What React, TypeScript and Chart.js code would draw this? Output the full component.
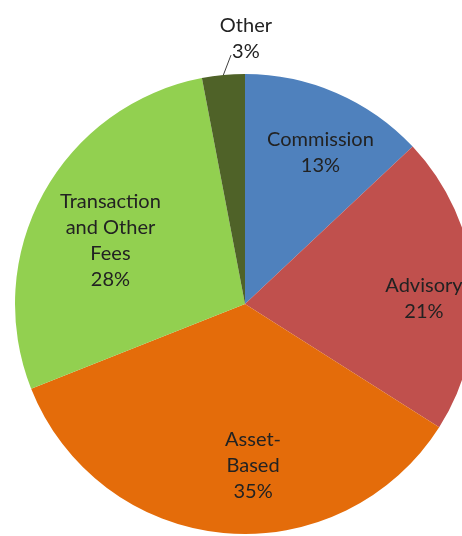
import React, { useEffect, useRef } from "react";
import { Chart, registerables } from "chart.js";

Chart.register(...registerables);

const categories = ["Commission", "Advisory", "Asset-Based", "Transaction and Other Fees", "Other"];
const labelLines = [["Commission"], ["Advisory"], ["Asset-", "Based"], ["Transaction", "and Other", "Fees"], ["Other"]];
const shares = [13, 21, 35, 28, 3];
const colors = ["#4F81BD", "#C0504D", "#E46C0A", "#92D050", "#4F6228"];
// label block centres, as fractions of the pie radius from the pie centre
const labelOffsets = [
  [0.328, -0.658],
  [0.778, -0.022],
  [0.035, 0.704],
  [-0.585, -0.278],
  [0.004, -1.154],
];
const leaderStart = [null, null, null, null, [-0.061, -1.082]];

const FONT = "Lato, 'Open Sans', sans-serif";
const LINE_H = 26;

const labelPlugin = {
  id: "pieLabels",
  afterDatasetsDraw(chart: any) {
    const ctx = chart.ctx;
    const meta = chart.getDatasetMeta(0);
    ctx.save();
    ctx.font = `20px ${FONT}`;
    ctx.fillStyle = "#222222";
    ctx.textAlign = "center";
    ctx.textBaseline = "middle";
    meta.data.forEach((arc: any, i: number) => {
      const { x, y, outerRadius, startAngle, endAngle } = arc.getProps(
        ["x", "y", "outerRadius", "startAngle", "endAngle"],
        true
      );
      const r = outerRadius;
      const lines = [...labelLines[i], `${shares[i]}%`];
      const cx = x + labelOffsets[i][0] * r;
      const cy = y + labelOffsets[i][1] * r;
      const top = cy - ((lines.length - 1) * LINE_H) / 2;
      lines.forEach((t, k) => ctx.fillText(t, cx, top + k * LINE_H));
      const ls = leaderStart[i];
      if (ls) {
        const mid = (startAngle + endAngle) / 2;
        ctx.beginPath();
        ctx.strokeStyle = "#404040";
        ctx.lineWidth = 1;
        ctx.moveTo(x + ls[0] * r, y + ls[1] * r);
        ctx.lineTo(x + Math.cos(mid) * r, y + Math.sin(mid) * r);
        ctx.stroke();
      }
    });
    ctx.restore();
  },
};

export default function App() {
  const ref = useRef<HTMLCanvasElement>(null);
  useEffect(() => {
    if (!ref.current) return;
    const chart = new Chart(ref.current, {
      type: "pie",
      data: {
        labels: categories,
        datasets: [
          {
            data: shares,
            backgroundColor: colors,
            borderWidth: 0,
            hoverBorderWidth: 0,
            hoverOffset: 0,
            offset: 0,
          },
        ],
      },
      options: {
        responsive: false,
        animation: false,
        layout: { padding: { left: 15, top: 74, right: 25, bottom: 66 } },
        plugins: {
          legend: { display: false },
          tooltip: { enabled: false },
          title: { display: false },
        },
      },
      plugins: [labelPlugin],
    });
    return () => chart.destroy();
  }, []);
  return (
    <div
      style={{
        position: "fixed",
        left: 0,
        top: 0,
        width: 462,
        height: 536,
        overflow: "hidden",
        background: "#ffffff",
      }}
    >
      <canvas ref={ref} width={500} height={600} style={{ position: "absolute", left: 0, top: 0 }} />
    </div>
  );
}
